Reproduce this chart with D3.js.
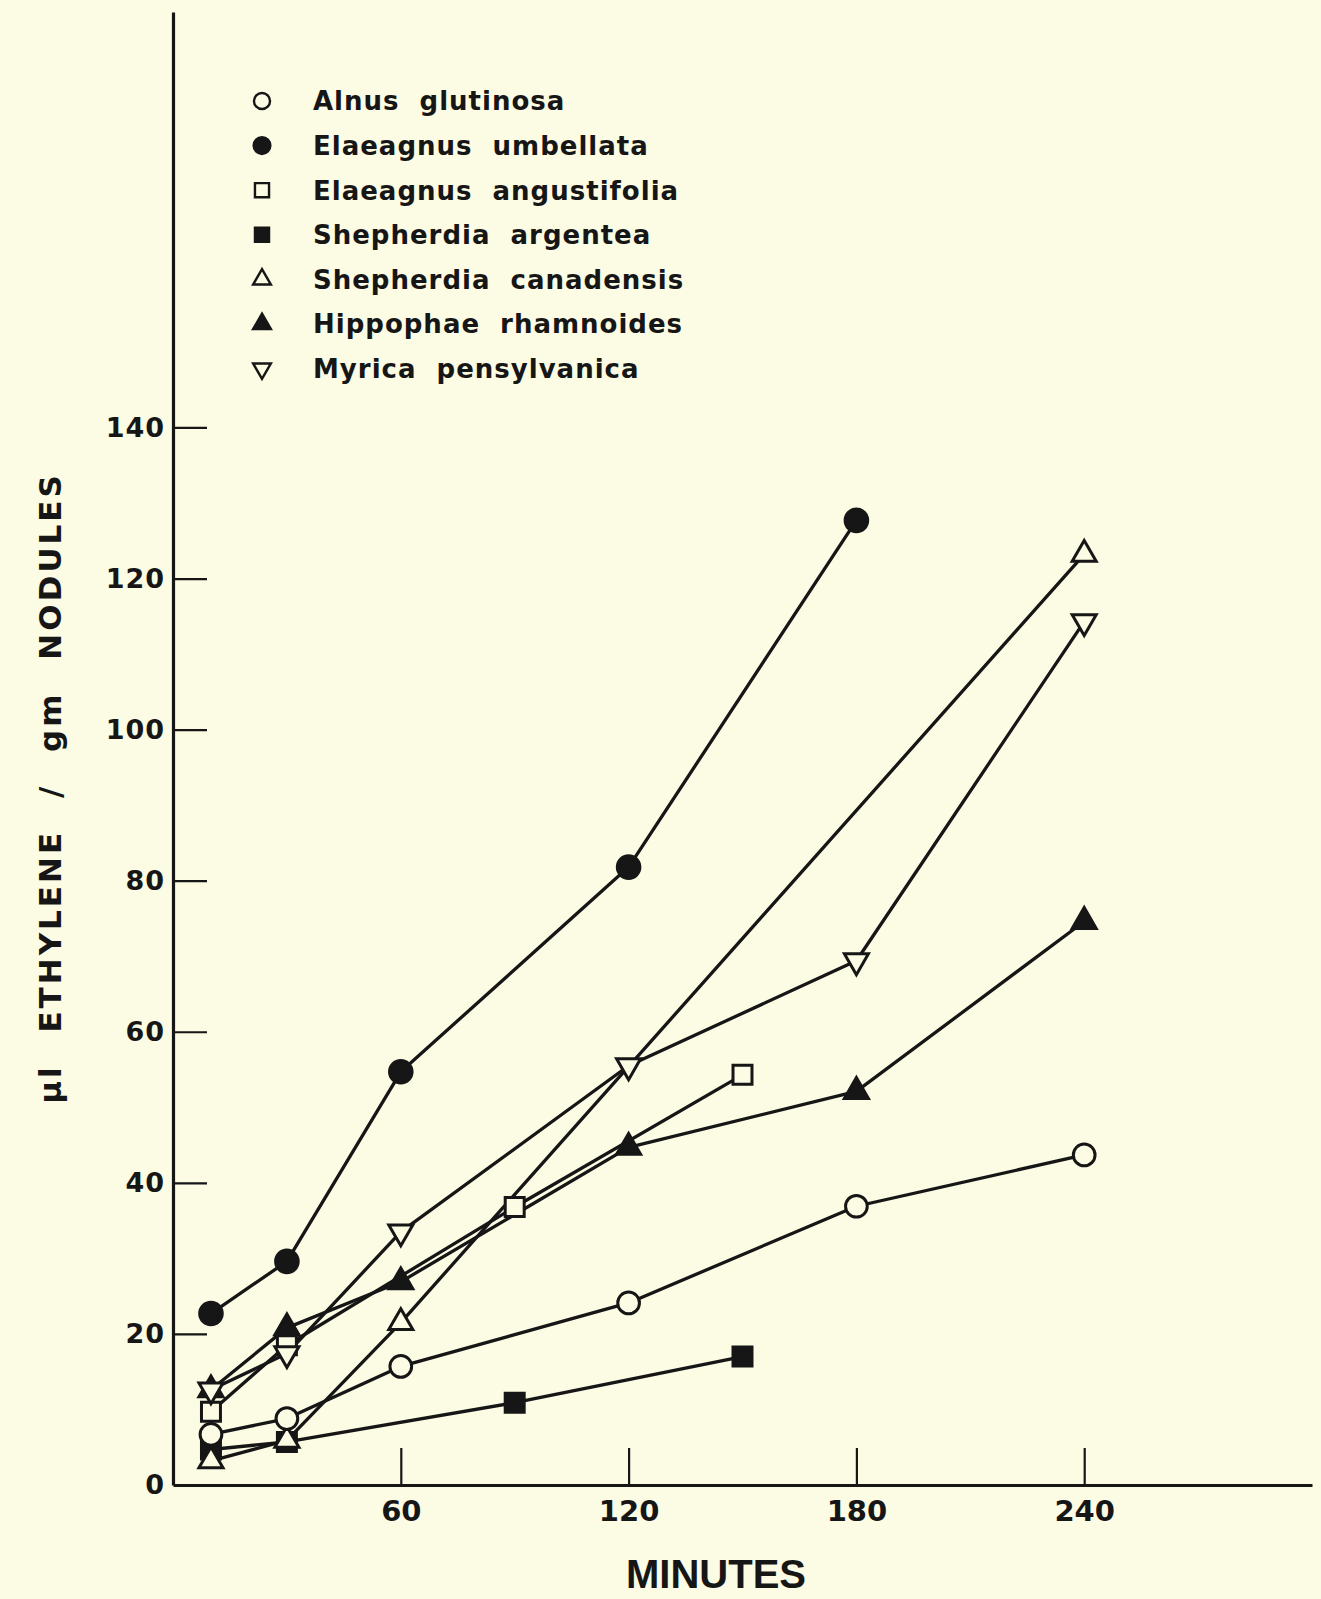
<!DOCTYPE html>
<html>
<head>
<meta charset="utf-8">
<script src="https://cdn.jsdelivr.net/npm/d3@7"></script>
<style>
  html, body { margin: 0; padding: 0; background: #fcfbe4; }
  svg { display: block; }
</style>
</head>
<body>
<div id="chart"></div>
<script>
// ---------------------------------------------------------
//  Ethylene production by nodules over time (7 species)
// ---------------------------------------------------------

// species, in legend order
const speciesNames = [
  'Alnus glutinosa',
  'Elaeagnus umbellata',
  'Elaeagnus angustifolia',
  'Shepherdia argentea',
  'Shepherdia canadensis',
  'Hippophae rhamnoides',
  'Myrica pensylvanica'
];

// minutes / µl ethylene per gm nodules
const alnusMin = [10, 30, 60, 120, 180, 240];
const alnusVal = [6.7, 8.8, 15.7, 24.1, 36.9, 43.7];

const umbellataMin = [10, 30, 60, 120, 180];
const umbellataVal = [22.7, 29.6, 54.7, 81.8, 127.7];

const angustifoliaMin = [10, 30, 90, 150];
const angustifoliaVal = [9.7, 18.5, 36.8, 54.3];

const argenteaMin = [10, 30, 90, 150];
const argenteaVal = [4.7, 5.7, 10.9, 17.0];

const canadensisMin = [10, 30, 60, 240];
const canadensisVal = [3.2, 5.9, 21.5, 123.2];

const hippophaeMin = [10, 30, 60, 120, 180, 240];
const hippophaeVal = [12.6, 20.8, 26.9, 44.7, 52.1, 74.6];

const myricaMin = [10, 30, 60, 120, 180, 240];
const myricaVal = [12.6, 17.4, 33.5, 55.5, 69.4, 114.3];

const xTickValues = [60, 120, 180, 240];
const yTickValues = [0, 20, 40, 60, 80, 100, 120, 140];

const BG = '#fcfbe4';
const INK = '#161616';

const W = 1321, H = 1599;

const svg = d3.select('#chart')
  .append('svg')
  .attr('width', W)
  .attr('height', H)
  .attr('viewBox', `0 0 ${W} ${H}`);

svg.append('rect').attr('width', W).attr('height', H).attr('fill', BG);

const x = d3.scaleLinear().domain([0, 300]).range([173, 1312]);
const y = d3.scaleLinear().domain([0, 195]).range([1485, 12]);

// shape per series (same order as speciesNames)
const shapes = [
  { type: d3.symbolCircle,   size: 370, rot: 0,   filled: false },
  { type: d3.symbolCircle,   size: 400, rot: 0,   filled: true  },
  { type: d3.symbolSquare,   size: 360, rot: 0,   filled: false },
  { type: d3.symbolSquare,   size: 360, rot: 0,   filled: true  },
  { type: d3.symbolTriangle, size: 250, rot: 0,   filled: false },
  { type: d3.symbolTriangle, size: 250, rot: 0,   filled: true  },
  { type: d3.symbolTriangle, size: 250, rot: 180, filled: false }
];

const series = [
  [alnusMin, alnusVal],
  [umbellataMin, umbellataVal],
  [angustifoliaMin, angustifoliaVal],
  [argenteaMin, argenteaVal],
  [canadensisMin, canadensisVal],
  [hippophaeMin, hippophaeVal],
  [myricaMin, myricaVal]
].map(([xs, ys], i) => ({
  name: speciesNames[i],
  shape: shapes[i],
  points: xs.map((m, j) => ({ m, v: ys[j] }))
}));

// axes
const yAxis = d3.axisLeft(y)
  .tickValues(yTickValues)
  .tickSize(-34)
  .tickSizeOuter(0)
  .tickPadding(8)
  .tickFormat(d3.format('d'));

const gy = svg.append('g')
  .attr('transform', `translate(${x(0)},0)`)
  .call(yAxis);

gy.selectAll('.tick line').filter(d => d === 0).remove();

const xAxis = d3.axisBottom(x)
  .tickValues(xTickValues)
  .tickSize(-37)
  .tickSizeOuter(0)
  .tickPadding(15)
  .tickFormat(d3.format('d'));

const gx = svg.append('g')
  .attr('transform', `translate(0,${y(0)})`)
  .call(xAxis);

[gx, gy].forEach(g => {
  g.select('.domain').attr('stroke', INK).attr('stroke-width', 3.2);
  g.selectAll('.tick line').attr('stroke', INK).attr('stroke-width', 2.2);
  g.selectAll('.tick text')
    .attr('fill', INK)
    .attr('font-family', 'DejaVu Sans, sans-serif')
    .attr('font-weight', 700);
});
gy.selectAll('.tick text').attr('font-size', 27).attr('letter-spacing', '1px');
gx.selectAll('.tick text').attr('font-size', 29);

// series lines
const line = d3.line().x(d => x(d.m)).y(d => y(d.v));

svg.append('g')
  .selectAll('path')
  .data(series)
  .join('path')
  .attr('d', d => line(d.points))
  .attr('fill', 'none')
  .attr('stroke', INK)
  .attr('stroke-width', 3.3)
  .attr('stroke-linejoin', 'round');

// markers, drawn in an order that keeps the crowded early points readable
const markerOrder = [3, 4, 0, 2, 5, 6, 1];
const markers = svg.append('g');
markerOrder.forEach(i => {
  const s = series[i];
  markers.append('g')
    .selectAll('path')
    .data(s.points)
    .join('path')
    .attr('transform', d => `translate(${x(d.m)},${y(d.v)}) rotate(${s.shape.rot})`)
    .attr('d', d3.symbol().type(s.shape.type).size(s.shape.size))
    .attr('fill', s.shape.filled ? INK : BG)
    .attr('stroke', INK)
    .attr('stroke-width', 3);
});

// legend
const legend = svg.append('g').attr('transform', 'translate(262,101)');
series.forEach((s, i) => {
  const row = legend.append('g').attr('transform', `translate(0,${i * 44.6})`);
  row.append('path')
    .attr('transform', `rotate(${s.shape.rot})`)
    .attr('d', d3.symbol().type(s.shape.type).size(s.shape.size * 0.55))
    .attr('fill', s.shape.filled ? INK : BG)
    .attr('stroke', INK)
    .attr('stroke-width', 2.4);
  row.append('text')
    .attr('x', 51)
    .attr('dy', '0.36em')
    .attr('font-family', 'DejaVu Sans, sans-serif')
    .attr('font-weight', 700)
    .attr('font-size', 26)
    .attr('letter-spacing', '1px')
    .attr('word-spacing', '10px')
    .attr('fill', INK)
    .text(s.name);
});

// axis titles
svg.append('text')
  .attr('transform', 'translate(61,788) rotate(-90)')
  .attr('text-anchor', 'middle')
  .attr('font-family', 'DejaVu Sans, sans-serif')
  .attr('font-weight', 700)
  .attr('font-size', 31)
  .attr('letter-spacing', '3px')
  .attr('word-spacing', '18px')
  .attr('fill', INK)
  .text('µl ETHYLENE / gm NODULES');

svg.append('text')
  .attr('x', 716)
  .attr('y', 1588)
  .attr('text-anchor', 'middle')
  .attr('font-family', 'Liberation Sans, Arial, sans-serif')
  .attr('font-weight', 700)
  .attr('font-size', 40)
  .attr('fill', INK)
  .text('MINUTES');
</script>
</body>
</html>
